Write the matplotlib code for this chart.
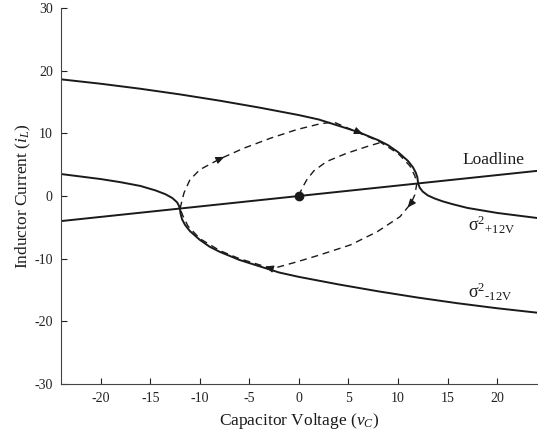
import numpy as np
import matplotlib
matplotlib.use("Agg")
import matplotlib.pyplot as plt

plt.rcParams['font.family'] = ['Liberation Serif', 'DejaVu Serif']
plt.rcParams['mathtext.fontset'] = 'custom'
plt.rcParams['mathtext.rm'] = 'Liberation Serif'
plt.rcParams['mathtext.it'] = 'Liberation Serif:italic'
plt.rcParams['axes.unicode_minus'] = False

# sigma^2 (+12V) curve
up_x = [-24, -20, -16, -12, -8, -4, 0, 2, 4, 6, 8, 9, 10, 11, 11.5, 11.8, 11.95, 12.0,
        12.05, 12.2, 12.5, 13.0, 13.7, 14.5, 15.5, 17, 18.5, 20, 22, 24]
up_y = [18.6, 17.9, 17.1, 16.2, 15.2, 14.1, 12.9, 12.2, 11.2, 10.2, 8.9, 8.1, 7.0, 5.6,
        4.6, 3.7, 3.0, 2.4, 1.9, 1.3, 0.7, 0.1, -0.4, -0.85, -1.3, -1.9, -2.3, -2.7, -3.1, -3.5]
# sigma^2 (-12V) curve
lo_x = [-24, -22, -20, -18, -16, -14.5, -13.5, -12.8, -12.3, -12.1, -12.0, -11.95, -11.8,
        -11.5, -11, -10, -9, -8, -6, -4, -2, 0, 4, 8, 12, 16, 20, 24]
lo_y = [3.5, 3.1, 2.7, 2.2, 1.6, 0.9, 0.3, -0.3, -1.0, -1.6, -2.2, -2.8, -3.7,
        -4.6, -5.6, -7.0, -8.1, -8.9, -10.2, -11.2, -12.2, -12.9, -14.1, -15.2, -16.2,
        -17.1, -17.9, -18.6]
# load line
load_x = [-24, 24]
load_y = [-4, 4]
# limit-cycle trajectory (dashed)
cyc_x = [-12.0, -11.6, -11.0, -10.0, -8.0, -5.6, -2.9, -0.2, 2.1, 3.5, 6.0, 8.0, 10.0,
         11.2, 11.7, 11.9, 11.7, 11.3, 10.2, 7.9, 5.2, 2.1, -0.2, -2.7, -6.0, -8.0,
         -10.0, -11.2, -11.7, -12.0]
cyc_y = [-2.0, 0.5, 2.6, 4.2, 5.9, 7.6, 9.2, 10.6, 11.5, 11.8, 10.1, 8.8, 6.8,
         4.8, 3.2, 2.0, 0.2, -1.2, -3.3, -5.7, -7.8, -9.4, -10.5, -11.6, -10.0, -8.7,
         -6.8, -4.8, -3.2, -2.0]
# trajectory from the origin (dashed)
orig_x = [0.0, 0.3, 0.8, 1.5, 2.8, 4.8, 6.9, 8.6]
orig_y = [0.0, 1.2, 2.6, 4.0, 5.5, 6.8, 7.9, 8.7]

arrow_idx = [4, 17, 23]
up_arrow_idx = 9

c = '#1a1a1a'
head = '-|>,head_length=0.5,head_width=0.22'

fig = plt.figure(figsize=(5.46, 4.37), dpi=100)
ax = fig.add_axes([0.112, 0.121, 0.871, 0.861])
ax.plot(up_x, up_y, color=c, lw=1.4)
ax.plot(lo_x, lo_y, color=c, lw=1.4)
ax.plot(load_x, load_y, color=c, lw=1.4)
ax.plot(cyc_x, cyc_y, color=c, lw=1.0, ls=(0, (5, 3.5)))
ax.plot(orig_x, orig_y, color=c, lw=1.0, ls=(0, (5, 3.5)))
ax.plot(orig_x[0], orig_y[0], 'o', color=c, ms=6)

for i in arrow_idx:
    ax.annotate('', xy=(cyc_x[i] + 0.3 * (cyc_x[i + 1] - cyc_x[i]),
                        cyc_y[i] + 0.3 * (cyc_y[i + 1] - cyc_y[i])),
                xytext=(cyc_x[i], cyc_y[i]),
                arrowprops=dict(arrowstyle=head, color=c, lw=0.8))
k = up_arrow_idx
ax.annotate('', xy=(up_x[k] + 0.35 * (up_x[k + 1] - up_x[k]),
                    up_y[k] + 0.35 * (up_y[k + 1] - up_y[k])),
            xytext=(up_x[k], up_y[k]),
            arrowprops=dict(arrowstyle=head, color=c, lw=0.8))

ax.text(16.5, 5.8, 'Loadline', fontsize=12.5, va='center', ha='left', color=c)
ax.text(17.1, -4.6, r'$\mathrm{σ}^{2}{}_{\mathrm{+12V}}$', fontsize=13, va='center', ha='left', color=c)
ax.text(17.1, -15.3, r'$\mathrm{σ}^{2}{}_{\mathrm{‐12V}}$', fontsize=13, va='center', ha='left', color=c)

ax.set_xlim(-24, 24)
ax.set_ylim(-30, 30)
ax.set_xticks([-20, -15, -10, -5, 0, 5, 10, 15, 20])
ax.set_yticks([-30, -20, -10, 0, 10, 20, 30])
ax.spines['top'].set_visible(False)
ax.spines['right'].set_visible(False)
for s in ['left', 'bottom']:
    ax.spines[s].set_color('#444444')
ax.tick_params(direction='in', length=4, labelsize=10, colors='#222222', pad=6)
ax.set_xlabel(r'Capacitor Voltage ($v_C$)', fontsize=12.5, color=c)
ax.set_ylabel(r'Inductor Current ($i_L$)', fontsize=12.5, color=c, labelpad=1)
fig.savefig('out.png', dpi=100)
